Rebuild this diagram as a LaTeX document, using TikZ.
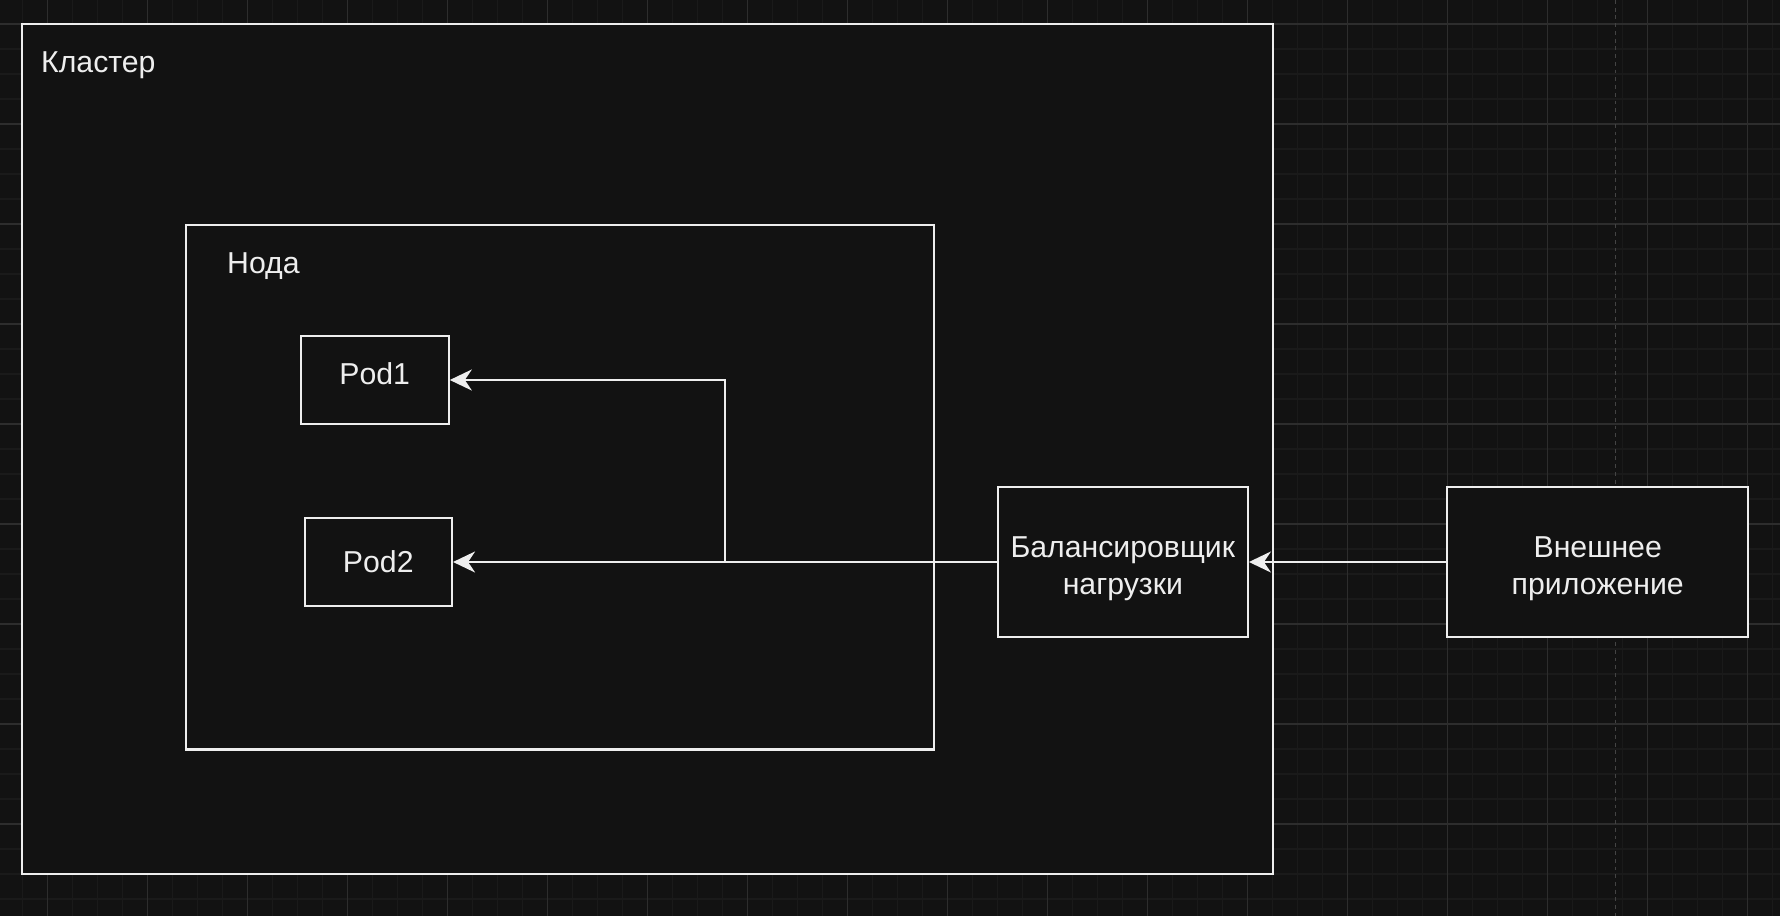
\documentclass[tikz,border=0pt]{standalone}
\usepackage{fontspec}
\setmainfont{Liberation Sans}
\usetikzlibrary{arrows.meta}
\definecolor{canvas}{HTML}{121212}
\definecolor{minorgrid}{HTML}{1A1A1A}
\definecolor{majorgrid}{HTML}{2D2D2D}
\definecolor{pagebreak}{HTML}{444444}
\definecolor{stroke}{HTML}{EEEEEE}

\begin{document}
\begin{tikzpicture}[x=0.01cm, y=-0.01cm,
	every node/.style={font=\fontsize{8.6}{10.5}\selectfont, text=stroke},
	box/.style={draw=stroke, fill=canvas, line width=0.6pt, inner sep=0pt, align=center},
	twoline/.style={text height=20.2pt},
	arr/.style={draw=stroke, line width=0.6pt, -{Stealth[length=0.22cm, width=0.21cm, inset=0.07cm]}}]
	% canvas 1780 x 916, one unit = 0.1mm
	\fill[canvas] (0,0) rectangle (1780,916);
	\useasboundingbox (0,0) rectangle (1780,916);
	% grid: minor every 25, major every 100
	\foreach \x in {-2.5,22.5,...,1780} \draw[minorgrid, line width=0.3pt] (\x,0) -- (\x,916);
	\foreach \y in {-1,24,...,916} \draw[minorgrid, line width=0.3pt] (0,\y) -- (1780,\y);
	\foreach \x in {47.5,147.5,...,1780} \draw[majorgrid, line width=0.3pt] (\x,0) -- (\x,916);
	\foreach \y in {24,124,...,916} \draw[majorgrid, line width=0.3pt] (0,\y) -- (1780,\y);
	% page break
	\draw[pagebreak, line width=0.4pt, dash pattern=on 1.1pt off 1.1pt] (1615.5,0) -- (1615.5,916);
	
	% cluster
	\node[box, minimum width=12.498cm, minimum height=8.5cm] (cluster) at (647.6,449) {};
	\node[anchor=base west, inner sep=0pt] (clusterlabel) at (40.5,73) {Кластер};
	% worker node
	\node[box, minimum width=7.473cm, minimum height=5.243cm] (worker) at (560.2,487.2) {};
	\node[anchor=base west, inner sep=0pt] (workerlabel) at (226.5,273.5) {Нода};
	% pods
	\node[box, minimum width=1.48cm, minimum height=0.884cm, text depth=3.4pt] (pod1) at (374.7,380) {Pod1};
	\node[box, minimum width=1.473cm, minimum height=0.874cm] (pod2) at (378.3,562) {Pod2};
	% balancer and external app
	\node[box, twoline, minimum width=2.5cm, minimum height=1.5cm] (balancer) at (1122.8,562) {Балансировщик\\нагрузки};
	\node[box, twoline, minimum width=3.005cm, minimum height=1.5cm] (extapp) at (1597.7,562) {Внешнее\\приложение};
	
	% connectors
	\coordinate (split) at (725,562);
	\draw[arr] (extapp.west) -- (balancer.east);
	\draw[arr] (balancer.west) -- (pod2.east);
	\draw[arr] (split) |- (pod1.east);
\end{tikzpicture}
\end{document}
